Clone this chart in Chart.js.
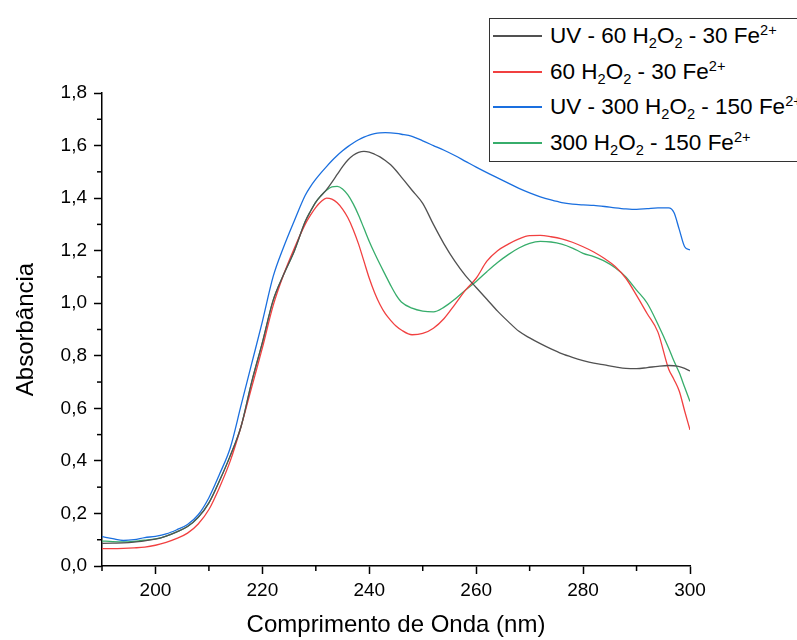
<!DOCTYPE html>
<html>
<head>
<meta charset="utf-8">
<script src="https://cdn.jsdelivr.net/npm/chart.js@4/dist/chart.umd.min.js"></script>
<style>
html,body{margin:0;padding:0;background:#fff;overflow:hidden;}
#wrap{position:relative;width:797px;height:640px;}
#legend{position:absolute;left:489px;top:18px;width:340px;height:144px;border:1.5px solid #333;box-sizing:border-box;background:#fff;
  font-family:"Liberation Sans",Arial,sans-serif;font-size:22.5px;color:#000;white-space:nowrap;}
.row{position:absolute;left:0;height:36px;width:340px;}
.swatch{position:absolute;left:3px;top:17px;width:49px;height:2px;}
.txt{position:absolute;left:60px;top:0;line-height:36px;}
sub,sup{font-size:65%;line-height:0;position:relative;vertical-align:baseline;}
sub{top:0.35em;}
sup{top:-0.55em;}
</style>
</head>
<body>
<div id="wrap">
<canvas id="c" width="797" height="640"></canvas>
<div id="legend"></div>
</div>
<script>
// ---- data (wavelength in nm, absorbance) ----
const wavelength = [190,192,194,196,198,200,202,204,206,208,210,212,214,216,218,220,222,224,226,228,
  229,230,231,232,233,234,235,236,237,238,239,240,241,242,243,244,245,246,
  248,250,252,254,256,258,260,262,264,266,268,270,272,274,276,278,280,282,284,286,288,290,292,294,296,
  297,298,299,300];

const uv60 = [0.086,0.087,0.088,0.091,0.096,0.102,0.114,0.130,0.150,0.185,0.240,0.325,0.420,0.530,0.700,0.850,1.010,1.110,1.200,1.310,
  1.350,1.385,1.410,1.432,1.460,1.490,1.520,1.545,1.563,1.574,1.578,1.575,1.567,1.557,1.543,1.527,1.505,1.480,
  1.430,1.380,1.300,1.225,1.160,1.105,1.060,1.015,0.970,0.930,0.893,0.868,0.846,0.826,0.808,0.794,0.782,0.772,0.765,0.758,0.752,0.751,0.755,0.760,0.763,
  0.762,0.759,0.752,0.742];

const fenton60 = [0.066,0.066,0.067,0.069,0.072,0.079,0.090,0.105,0.125,0.160,0.215,0.300,0.400,0.530,0.680,0.830,0.990,1.110,1.210,1.300,
  1.335,1.365,1.387,1.400,1.396,1.382,1.358,1.325,1.280,1.225,1.160,1.095,1.040,0.995,0.960,0.935,0.913,0.898,
  0.880,0.885,0.905,0.942,0.995,1.050,1.095,1.160,1.200,1.225,1.245,1.257,1.258,1.253,1.245,1.232,1.215,1.195,1.170,1.140,1.095,1.030,0.960,0.890,0.750,
  0.710,0.665,0.590,0.518];

const uv300 = [0.112,0.104,0.097,0.100,0.108,0.113,0.122,0.138,0.158,0.195,0.260,0.350,0.450,0.610,0.770,0.930,1.100,1.215,1.315,1.410,
  1.444,1.472,1.497,1.520,1.542,1.562,1.580,1.596,1.610,1.622,1.632,1.640,1.645,1.648,1.649,1.648,1.646,1.643,
  1.635,1.618,1.600,1.582,1.562,1.540,1.518,1.497,1.477,1.457,1.437,1.420,1.405,1.393,1.383,1.377,1.374,1.372,1.368,1.363,1.359,1.357,1.360,1.363,1.363,
  1.345,1.280,1.215,1.203];

const fenton300 = [0.095,0.093,0.092,0.094,0.098,0.103,0.114,0.130,0.150,0.185,0.240,0.325,0.420,0.530,0.700,0.850,1.010,1.110,1.200,1.310,
  1.350,1.385,1.410,1.430,1.443,1.445,1.435,1.412,1.378,1.335,1.285,1.235,1.190,1.148,1.108,1.068,1.032,1.005,
  0.981,0.970,0.967,0.985,1.015,1.050,1.083,1.120,1.155,1.185,1.210,1.228,1.235,1.233,1.225,1.210,1.190,1.177,1.160,1.135,1.100,1.050,1.000,0.920,0.830,
  0.780,0.735,0.680,0.626];

const seriesLabels = ['UV - 60 H₂O₂ - 30 Fe²⁺','60 H₂O₂ - 30 Fe²⁺','UV - 300 H₂O₂ - 150 Fe²⁺','300 H₂O₂ - 150 Fe²⁺'];
const legendHtml = [
  'UV - 60 H<sub>2</sub>O<sub>2</sub> - 30 Fe<sup>2+</sup>',
  '60 H<sub>2</sub>O<sub>2</sub> - 30 Fe<sup>2+</sup>',
  'UV - 300 H<sub>2</sub>O<sub>2</sub> - 150 Fe<sup>2+</sup>',
  '300 H<sub>2</sub>O<sub>2</sub> - 150 Fe<sup>2+</sup>'
];
const seriesColors = ['#515151','#F14040','#1A6FDF','#37AD6B'];
const xMajorTicks = [200,220,240,260,280,300];
const xMinorTicks = [190,210,230,250,270,290];
const yMajorTicks = [0,0.2,0.4,0.6,0.8,1.0,1.2,1.4,1.6,1.8];
const yMinorTicks = [0.1,0.3,0.5,0.7,0.9,1.1,1.3,1.5,1.7];
const xTitle = 'Comprimento de Onda (nm)';
const yTitle = 'Absorbância';

const allSeries = [uv60, fenton60, uv300, fenton300];
const datasets = allSeries.map((vals, i) => ({
  label: seriesLabels[i],
  data: wavelength.map((w, k) => ({x: w, y: vals[k]})),
  borderColor: seriesColors[i],
  backgroundColor: seriesColors[i],
  borderWidth: 1.3,
  pointRadius: 0,
  fill: false,
  cubicInterpolationMode: 'monotone'
}));

const FONT = '"Liberation Sans", Arial, sans-serif';

const minorTicksPlugin = {
  id: 'minorTicks',
  afterDraw(chart) {
    const {ctx} = chart;
    const x = chart.scales.x, y = chart.scales.y;
    ctx.save();
    ctx.strokeStyle = '#000';
    ctx.lineWidth = 1.5;
    xMinorTicks.forEach(v => {
      const px = x.getPixelForValue(v);
      ctx.beginPath(); ctx.moveTo(px, x.top); ctx.lineTo(px, x.top + 5); ctx.stroke();
    });
    yMinorTicks.forEach(v => {
      const py = y.getPixelForValue(v);
      ctx.beginPath(); ctx.moveTo(y.right, py); ctx.lineTo(y.right - 5, py); ctx.stroke();
    });
    ctx.restore();
  }
};

new Chart(document.getElementById('c'), {
  type: 'line',
  data: {datasets},
  options: {
    responsive: false,
    animation: false,
    devicePixelRatio: 1,
    layout: {padding: {top: 93, right: 107, bottom: 0, left: 0}},
    plugins: {legend: {display: false}, tooltip: {enabled: false}},
    scales: {
      x: {
        type: 'linear',
        min: 190, max: 300,
        afterBuildTicks(scale) { scale.ticks = xMajorTicks.map(v => ({value: v})); },
        afterFit(scale) { scale.height = 74; },
        grid: {drawOnChartArea: false, drawTicks: true, tickLength: 8, tickColor: '#000', tickWidth: 1.5},
        border: {display: true, color: '#000', width: 1.5},
        ticks: {color: '#000', font: {family: FONT, size: 19}, padding: 5, maxRotation: 0,
          callback: v => String(v)},
        title: {display: true, text: xTitle, color: '#000', font: {family: FONT, size: 24}, padding: {top: 0, bottom: 0}}
      },
      y: {
        type: 'linear',
        min: 0, max: 1.8,
        afterBuildTicks(scale) { scale.ticks = yMajorTicks.map(v => ({value: v})); },
        afterFit(scale) { scale.width = 102; },
        grid: {drawOnChartArea: false, drawTicks: true, tickLength: 8, tickColor: '#000', tickWidth: 1.5},
        border: {display: true, color: '#000', width: 1.5},
        ticks: {color: '#000', font: {family: FONT, size: 19}, padding: 7,
          callback: v => v.toFixed(1).replace('.', ',')},
        title: {display: true, text: yTitle, color: '#000', font: {family: FONT, size: 24}, padding: {top: 12, bottom: 0}}
      }
    }
  },
  plugins: [minorTicksPlugin]
});

// HTML legend with sub/superscripts
const legendEl = document.getElementById('legend');
const rowTops = [-1, 35, 70, 106];
legendHtml.forEach((html, i) => {
  const row = document.createElement('div');
  row.className = 'row';
  row.style.top = rowTops[i] + 'px';
  const sw = document.createElement('div');
  sw.className = 'swatch';
  sw.style.background = seriesColors[i];
  const t = document.createElement('span');
  t.className = 'txt';
  t.innerHTML = html;
  row.appendChild(sw); row.appendChild(t);
  legendEl.appendChild(row);
});
</script>
</body>
</html>
